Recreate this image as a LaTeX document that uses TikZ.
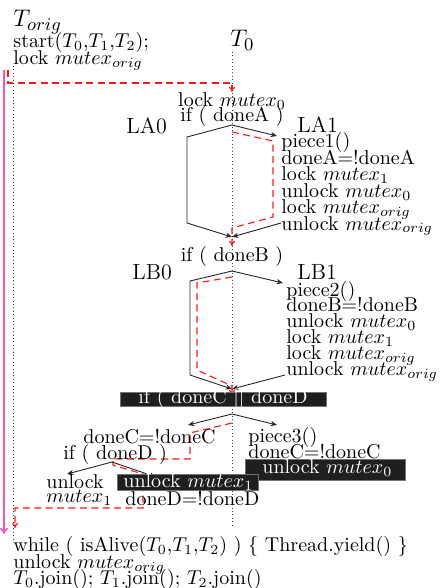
\documentclass[tikz,border=0pt]{standalone}
\usetikzlibrary{arrows.meta}
\begin{document}
\begin{tikzpicture}[x=0.5pt,y=-0.5pt,
  txt/.style={anchor=base west, inner sep=0pt, font=\fontsize{10}{12}\selectfont},
  ctxt/.style={anchor=base, inner sep=0pt, font=\fontsize{10}{12}\selectfont},
  lbl/.style={anchor=base west, inner sep=0pt, font=\fontsize{11}{13}\selectfont},
  tlbl/.style={anchor=base west, inner sep=0pt, font=\fontsize{13}{15}\selectfont},
  thread/.style={draw=black!75, line width=0.5pt, dash pattern=on 0.45pt off 1.25pt},
  flow/.style={draw=black!85, line width=0.45pt, -{Stealth[length=3.2pt,width=2.6pt]}},
  redpath/.style={draw=red!90, line width=0.55pt, dash pattern=on 3.5pt off 2.2pt},
  redarrow/.style={redpath, -{To[length=2.5pt,width=3pt]}},
  mag/.style={draw=magenta!65, line width=0.8pt, -{To[length=3pt,width=4pt]}},
  blkbox/.style={fill=black!88, draw=black!55, line width=0.35pt, inner sep=0pt}
]
\useasboundingbox (0,0) rectangle (441,588);

% ---------- thread lines ----------
\coordinate (lt) at (13,66);
\coordinate (lb) at (13,540);
\coordinate (ct) at (232,52);
\coordinate (cb) at (232,528);
\draw[thread] (lt) -- (lb);
\draw[thread] (ct) -- (cb);
\coordinate (mt) at (4,70);
\coordinate (mb) at (4,534);
\draw[mag] (mt) -- (mb);

% ---------- red dashed execution path ----------
\coordinate (r0) at (8,70);
\coordinate (r1) at (8,83);
\coordinate (r2) at (232,83);
\coordinate (r3) at (232,92);
\draw[redarrow] (r0) -- (r1) -- (r2) -- (r3);

\coordinate (ra0) at (232,132);
\coordinate (ra1) at (273,141);
\coordinate (ra2) at (273,217);
\coordinate (ra3) at (232,228);
\coordinate (ra4) at (232,246);
\draw[redarrow] (ra0) -- (ra1) -- (ra2) -- (ra3) -- (ra4);

\coordinate (rb0) at (232,277);
\coordinate (rb1) at (197,283);
\coordinate (rb2) at (197,370);
\coordinate (rb3) at (232,386);
\coordinate (rb4) at (232,395);
\draw[redarrow] (rb0) -- (rb1) -- (rb2) -- (rb3) -- (rb4);

\coordinate (rc0) at (232,423);
\coordinate (rc1) at (190,433);
\coordinate (rc2) at (190,459);
\coordinate (rc3) at (113,459);
\coordinate (rc4) at (113,465);
\coordinate (rc5) at (143,474);
\coordinate (rc6) at (143,508);
\coordinate (rc7) at (15,508);
\coordinate (rc8) at (15,528);
\draw[redarrow] (rc0) -- (rc1) -- (rc2) -- (rc3) -- (rc4) -- (rc5) -- (rc6) -- (rc7) -- (rc8);

% ---------- black branch arrows ----------
% LA
\coordinate (aA) at (232,125);
\coordinate (aL1) at (187,137);
\coordinate (aL2) at (187,223);
\coordinate (aJ) at (232,237);
\coordinate (aR) at (277,136);
\coordinate (aR2) at (281,223);
\draw[flow] (aA) -- (aL1) -- (aL2) -- (aJ);
\draw[flow] (aA) -- (aR);
\draw[flow] (aR2) -- (aJ);
% LB
\coordinate (bA) at (232,271);
\coordinate (bL1) at (190,281);
\coordinate (bL2) at (190,375);
\coordinate (bJ) at (232,389);
\coordinate (bR) at (283,283);
\coordinate (bR2) at (285,375);
\draw[flow] (bA) -- (bL1) -- (bL2) -- (bJ);
\draw[flow] (bA) -- (bR);
\draw[flow] (bR2) -- (bJ);
% C
\coordinate (cA) at (232,414);
\coordinate (cL) at (188,425);
\coordinate (cR) at (277,425);
\draw[flow] (cA) -- (cL);
\draw[flow] (cA) -- (cR);
% D
\coordinate (dA) at (112,462);
\coordinate (dL) at (67,474);
\coordinate (dR) at (156,477);
\draw[flow] (dA) -- (dL);
\draw[flow] (dA) -- (dR);

% ---------- black boxes ----------
\node[blkbox, anchor=north west, minimum width=103pt, minimum height=7pt] (boxC) at (120,392) {};
\node[ctxt, text=white] (tC) at (223,403.5) {if ( doneC || doneD};

\node[blkbox, anchor=north west, minimum width=80pt, minimum height=10.5pt] (box0) at (245,459) {};
\node[txt, text=white] (t0) at (262,473) {unlock $mutex_0$};

\node[blkbox, anchor=north west, minimum width=70.5pt, minimum height=8pt] (box1) at (117,474) {};
\node[txt, text=white] (t1) at (123,487) {unlock $mutex_1$};

% ---------- texts ----------
\node[tlbl] (Torig) at (13,27) {$T_{orig}$};
\node[txt] (start) at (13,48) {start($T_0$,$T_1$,$T_2$);};
\node[txt] (lockorig) at (13,65) {lock $mutex_{orig}$};
\node[tlbl] (T0) at (230,47) {$T_0$};

\node[ctxt] (lock0) at (232,107) {lock $mutex_0$};
\node[ctxt] (ifA) at (232,122) {if ( doneA )};
\node[lbl] (LA0) at (126,134) {LA0};
\node[lbl] (LA1) at (297,133) {LA1};
\node[txt] (a1) at (281,148) {piece1()};
\node[txt] (a2) at (281,164.4) {doneA=!doneA};
\node[txt] (a3) at (281,180.8) {lock $mutex_1$};
\node[txt] (a4) at (281,197.2) {unlock $mutex_0$};
\node[txt] (a5) at (281,213.6) {lock $mutex_{orig}$};
\node[txt] (a6) at (281,230) {unlock $mutex_{orig}$};

\node[ctxt] (ifB) at (232,261) {if ( doneB )};
\node[lbl] (LB0) at (132,279) {LB0};
\node[lbl] (LB1) at (297,279) {LB1};
\node[txt] (b1) at (286,296) {piece2()};
\node[txt] (b2) at (286,311.8) {doneB=!doneB};
\node[txt] (b3) at (286,327.6) {unlock $mutex_0$};
\node[txt] (b4) at (286,343.4) {lock $mutex_1$};
\node[txt] (b5) at (286,359.2) {lock $mutex_{orig}$};
\node[txt] (b6) at (286,375) {unlock $mutex_{orig}$};

\node[txt] (cc) at (83,443.5) {doneC=!doneC};
\node[txt] (ifD) at (63,459.5) {if ( doneD )};
\node[txt] (ul) at (46,488) {unlock};
\node[txt] (um) at (46,502.5) {$mutex_1$};
\node[txt] (dd) at (125,505.5) {doneD=!doneD};
\node[txt] (p3) at (248,442.5) {piece3()};
\node[txt] (cc2) at (248,458) {doneC=!doneC};

\node[txt] (wh) at (13,551) {while ( isAlive($T_0$,$T_1$,$T_2$) ) \{ Thread.yield() \}};
\node[txt] (uo) at (13,568.5) {unlock $mutex_{orig}$};
\node[txt] (jn) at (13,584) {$T_0$.join(); $T_1$.join(); $T_2$.join()};
\end{tikzpicture}
\end{document}
